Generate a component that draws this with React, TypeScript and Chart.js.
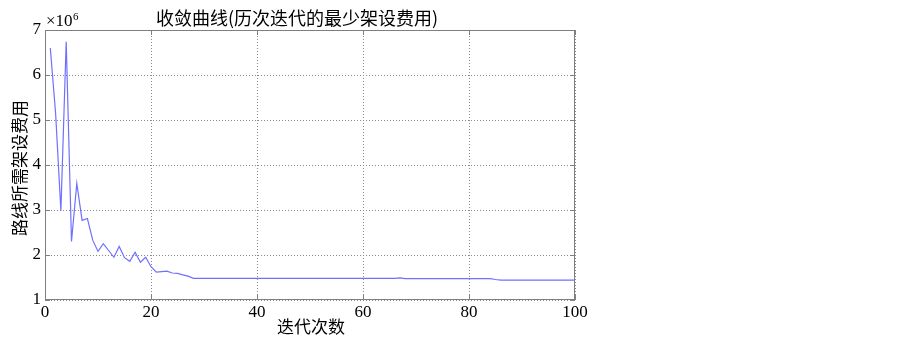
import React, { useEffect, useRef } from "react";
import { Chart, registerables } from "chart.js";

Chart.register(...registerables);

// Minimum erection cost per iteration, in units of 10^6
const costValues: number[] = [
  6.60, 5.15, 2.98, 6.74, 2.30, 3.59, 2.77, 2.81, 2.33, 2.08,
  2.25, 2.10, 1.95, 2.19, 1.94, 1.86, 2.06, 1.84, 1.95, 1.74,
  1.62, 1.63, 1.64, 1.60, 1.59, 1.56, 1.53, 1.48, 1.48, 1.48,
  1.48, 1.48, 1.48, 1.48, 1.48, 1.48, 1.48, 1.48, 1.48, 1.48,
  1.48, 1.48, 1.48, 1.48, 1.48, 1.48, 1.48, 1.48, 1.48, 1.48,
  1.48, 1.48, 1.48, 1.48, 1.48, 1.48, 1.48, 1.48, 1.48, 1.48,
  1.48, 1.48, 1.48, 1.48, 1.48, 1.48, 1.49, 1.475, 1.475, 1.475,
  1.475, 1.475, 1.475, 1.475, 1.475, 1.475, 1.475, 1.475, 1.475, 1.475,
  1.475, 1.475, 1.475, 1.475, 1.455, 1.44, 1.44, 1.44, 1.44, 1.44,
  1.44, 1.44, 1.44, 1.44, 1.44, 1.44, 1.44, 1.44, 1.44, 1.44,
];
const iterations: number[] = costValues.map((_, i) => i + 1);

const xTicks: number[] = [0, 20, 40, 60, 80, 100];
const yTicks: number[] = [1, 2, 3, 4, 5, 6, 7];

const titleText = "收敛曲线(历次迭代的最少架设费用)";
const xTitle = "迭代次数";
const yTitle = "路线所需架设费用";
const exponentBase = "×10";
const exponentPower = "6";

const CJK = '"Noto Sans CJK SC", "Noto Sans", sans-serif';
const SERIF = '"Liberation Serif", "DejaVu Serif", serif';

const decorPlugin = {
  id: "decor",
  afterDatasetsDraw(chart: any) {
    const { ctx, chartArea } = chart;
    const { left, right, top, bottom } = chartArea;
    const xs = chart.scales.x;
    const ys = chart.scales.y;
    ctx.save();
    ctx.strokeStyle = "#7f7f7f";
    ctx.lineWidth = 1;
    ctx.setLineDash([]);
    ctx.strokeRect(left + 0.5, top + 0.5, right - left - 1, bottom - top - 1);
    const tl = 5;
    ctx.beginPath();
    xTicks.forEach((v) => {
      const px = Math.round(xs.getPixelForValue(v)) + 0.5;
      ctx.moveTo(px, bottom);
      ctx.lineTo(px, bottom - tl);
      ctx.moveTo(px, top);
      ctx.lineTo(px, top + tl);
    });
    yTicks.forEach((v) => {
      const py = Math.round(ys.getPixelForValue(v)) + 0.5;
      ctx.moveTo(left, py);
      ctx.lineTo(left + tl, py);
      ctx.moveTo(right, py);
      ctx.lineTo(right - tl, py);
    });
    ctx.stroke();
    ctx.restore();
  },
  afterDraw(chart: any) {
    const { ctx, chartArea } = chart;
    ctx.save();
    ctx.fillStyle = "#000";
    ctx.textAlign = "center";
    ctx.textBaseline = "middle";
    ctx.font = `18px ${CJK}`;
    ctx.fillText(titleText, 297, 18);
    ctx.font = `17px ${CJK}`;
    ctx.fillText(xTitle, 311, 327);
    ctx.save();
    ctx.translate(19.5, (chartArea.top + chartArea.bottom) / 2 + 3);
    ctx.rotate(-Math.PI / 2);
    ctx.fillText(yTitle, 0, 0);
    ctx.restore();
    ctx.textAlign = "left";
    ctx.textBaseline = "alphabetic";
    ctx.font = `17px ${SERIF}`;
    ctx.fillText(exponentBase, 46, 26);
    const w = ctx.measureText(exponentBase).width;
    ctx.font = `11px ${SERIF}`;
    ctx.fillText(exponentPower, 46 + w + 0.5, 20);
    ctx.restore();
  },
};

export default function App() {
  const canvasRef = useRef<HTMLCanvasElement | null>(null);

  useEffect(() => {
    document.body.style.margin = "0";
    const canvas = canvasRef.current;
    if (!canvas) return;
    const chart = new Chart(canvas, {
      type: "line",
      data: {
        datasets: [
          {
            data: iterations.map((x, i) => ({ x, y: costValues[i] })),
            borderColor: "rgb(112,112,255)",
            borderWidth: 1.2,
            pointRadius: 0,
            tension: 0,
            fill: false,
          },
        ],
      },
      options: {
        animation: false,
        responsive: false,
        maintainAspectRatio: false,
        devicePixelRatio: 1,
        layout: { padding: { top: 30, right: 328, left: 0, bottom: 0 } },
        plugins: {
          legend: { display: false },
          title: { display: false },
          tooltip: { enabled: false },
        },
        scales: {
          x: {
            type: "linear",
            min: 0,
            max: 100,
            afterFit: (s: any) => {
              s.height = 38;
            },
            afterBuildTicks: (s: any) => {
              s.ticks = xTicks.map((v) => ({ value: v }));
            },
            ticks: {
              font: { family: '"Liberation Serif", serif', size: 17 },
              color: "#000",
              padding: 2,
              maxRotation: 0,
            },
            grid: { color: "#8a8a8a", lineWidth: 1, drawTicks: false },
            border: { display: false, dash: [1, 2] },
          },
          y: {
            type: "linear",
            min: 1,
            max: 7,
            afterFit: (s: any) => {
              s.width = 45;
            },
            afterBuildTicks: (s: any) => {
              s.ticks = yTicks.map((v) => ({ value: v }));
            },
            ticks: {
              font: { family: '"Liberation Serif", serif', size: 17 },
              color: "#000",
              padding: 4,
            },
            grid: { color: "#8a8a8a", lineWidth: 1, drawTicks: false },
            border: { display: false, dash: [1, 2] },
          },
        },
      },
      plugins: [decorPlugin],
    });
    return () => chart.destroy();
  }, []);

  return (
    <div style={{ width: 903, height: 338, background: "#fff" }}>
      <canvas ref={canvasRef} width={903} height={338} style={{ display: "block" }} />
    </div>
  );
}
